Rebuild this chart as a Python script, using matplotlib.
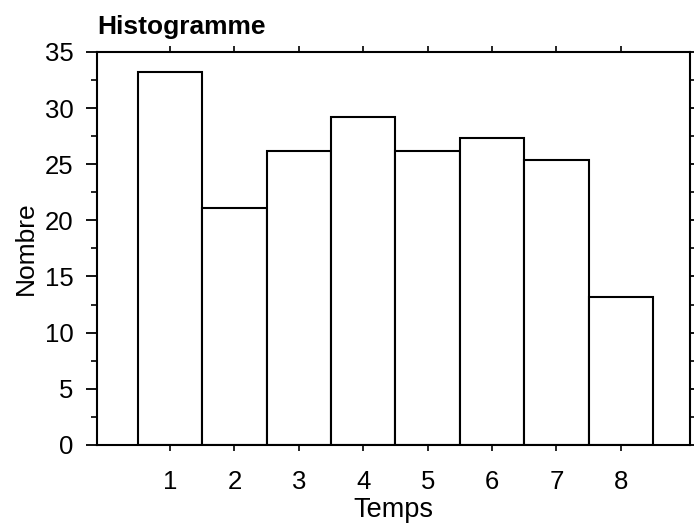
import matplotlib.pyplot as plt
from matplotlib.ticker import MultipleLocator

temps = [1, 2, 3, 4, 5, 6, 7, 8]
nombre = [33.2, 21.1, 26.2, 29.2, 26.2, 27.3, 25.4, 13.2]
yticks = [0, 5, 10, 15, 20, 25, 30, 35]

plt.rcParams['font.family'] = ['Liberation Sans', 'DejaVu Sans']

fig = plt.figure(figsize=(6.94, 5.24), dpi=100)
ax = fig.add_axes([0.140, 0.151, 0.854, 0.750])

ax.bar(temps, nombre, width=1.0, color='white', edgecolor='black', linewidth=1.5)

ax.set_xlim(-0.13, 9.07)
ax.set_ylim(0, 35)
ax.set_xticks(temps)
ax.set_yticks(yticks)
ax.yaxis.set_minor_locator(MultipleLocator(2.5))

for s in ax.spines.values():
    s.set_linewidth(1.5)

ax.tick_params(axis='y', which='major', direction='out', length=8, width=1.3,
               labelsize=18.5, pad=9, right=True)
ax.tick_params(axis='y', which='minor', direction='out', length=4, width=1.2, right=True)
ax.tick_params(axis='x', which='major', direction='out', length=4, width=1.2,
               labelsize=18.5, pad=14, top=True)

ax.set_xlabel('Temps', fontsize=19.5, labelpad=2)
ax.set_ylabel('Nombre', fontsize=19, labelpad=5)
ax.set_title('Histogramme', loc='left', fontsize=19, fontweight='bold', pad=13)

fig.savefig('out.png', dpi=100)
